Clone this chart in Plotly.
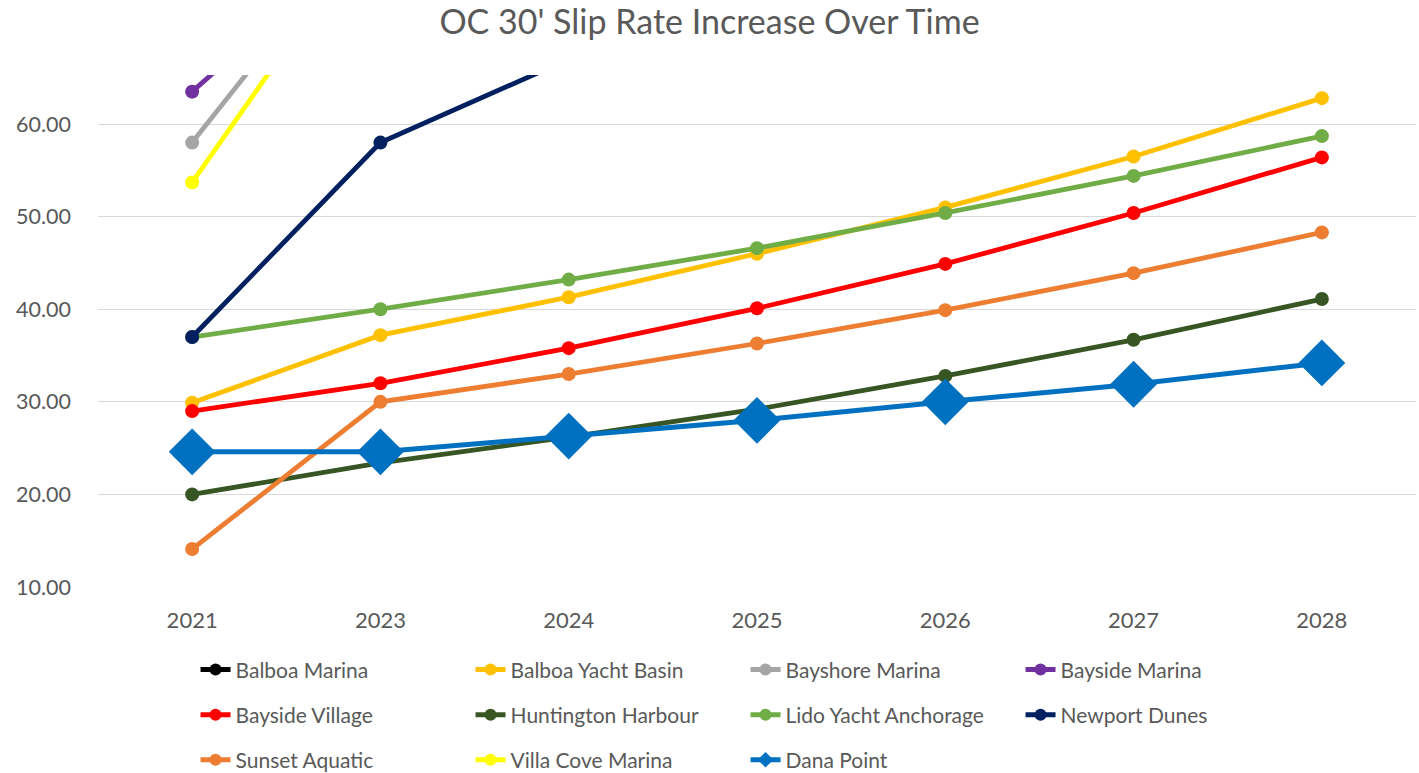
import plotly.graph_objects as go

years = ["2021", "2023", "2024", "2025", "2026", "2027", "2028"]

balboa_marina = [75.0, 95.0, 100.0, 105.0, 110.0, 116.0, 122.0]
balboa_yacht_basin = [29.9, 37.2, 41.3, 46.0, 51.0, 56.5, 62.8]
bayshore_marina = [58.0, 83.7, 88.0, 92.0, 97.0, 102.0, 107.0]
bayside_marina = [63.5, 81.5, 86.0, 91.0, 96.0, 101.0, 106.0]
bayside_village = [29.0, 32.0, 35.8, 40.1, 44.9, 50.4, 56.4]
huntington_harbour = [20.0, 23.4, 26.2, 29.2, 32.8, 36.7, 41.1]
lido_yacht_anchorage = [37.0, 40.0, 43.2, 46.6, 50.4, 54.4, 58.7]
newport_dunes = [37.0, 58.0, 67.0, 72.0, 77.0, 82.0, 87.0]
sunset_aquatic = [14.1, 30.0, 33.0, 36.3, 39.9, 43.9, 48.3]
villa_cove_marina = [53.7, 82.7, 87.0, 92.0, 97.0, 102.0, 107.0]
dana_point = [24.6, 24.6, 26.3, 28.0, 30.0, 31.9, 34.2]

series = [
    ("Balboa Marina", balboa_marina, "#000000", "legend"),
    ("Balboa Yacht Basin", balboa_yacht_basin, "#FFC000", "legend"),
    ("Bayshore Marina", bayshore_marina, "#A5A5A5", "legend"),
    ("Bayside Marina", bayside_marina, "#7030A0", "legend"),
    ("Bayside Village", bayside_village, "#FF0000", "legend2"),
    ("Huntington Harbour", huntington_harbour, "#375623", "legend2"),
    ("Lido Yacht Anchorage", lido_yacht_anchorage, "#70AD47", "legend2"),
    ("Newport Dunes", newport_dunes, "#002060", "legend2"),
    ("Sunset Aquatic", sunset_aquatic, "#ED7D31", "legend3"),
    ("Villa Cove Marina", villa_cove_marina, "#FFFF00", "legend3"),
]

FONT = "Lato"
GREY = "#595959"

fig = go.Figure()
for name, vals, color, lg in series:
    fig.add_trace(go.Scatter(
        x=years, y=vals, name=name, mode="lines+markers",
        line=dict(color=color, width=4.8),
        marker=dict(symbol="circle", size=14, color=color),
        legend=lg,
    ))

fig.add_trace(go.Scatter(
    x=years, y=dana_point, name="Dana Point", mode="lines+markers",
    line=dict(color="#0070C0", width=5),
    marker=dict(symbol="diamond", size=36, color="#0070C0"),
    legend="legend3",
))

def leg(y):
    return dict(
        orientation="h", x=0.074, xanchor="left", y=y, yanchor="middle",
        entrywidth=230, entrywidthmode="pixels",
        font=dict(family=FONT, size=21, color=GREY),
        itemsizing="constant", bgcolor="rgba(0,0,0,0)",
    )

fig.update_layout(
    width=1419, height=773,
    margin=dict(l=98, r=3, t=75, b=186, autoexpand=False),
    paper_bgcolor="white", plot_bgcolor="white",
    title=dict(text="OC 30' Slip Rate Increase Over Time", x=0.5, xanchor="center",
               y=0.972, yanchor="middle", yref="container",
               font=dict(family=FONT, size=34, color=GREY)),
    font=dict(family=FONT, color=GREY),
    xaxis=dict(type="category", range=[-0.5, 6.5], showgrid=False, zeroline=False,
               showline=False, ticks="", tickfont=dict(family=FONT, size=22, color=GREY),
               ticklabelstandoff=18),
    yaxis=dict(range=[10, 65.3], dtick=10, tick0=10, tickformat=".2f",
               showgrid=True, gridcolor="#D9D9D9", gridwidth=1.3,
               zeroline=False, showline=False, ticks="",
               tickfont=dict(family=FONT, size=21.5, color=GREY),
               ticklabelstandoff=26),
    legend=leg(-0.162),
    legend2=leg(-0.25),
    legend3=leg(-0.338),
    showlegend=True,
)

fig.write_html("out.html", config={"displayModeBar": False},
               post_script="document.body.style.margin='0';")
